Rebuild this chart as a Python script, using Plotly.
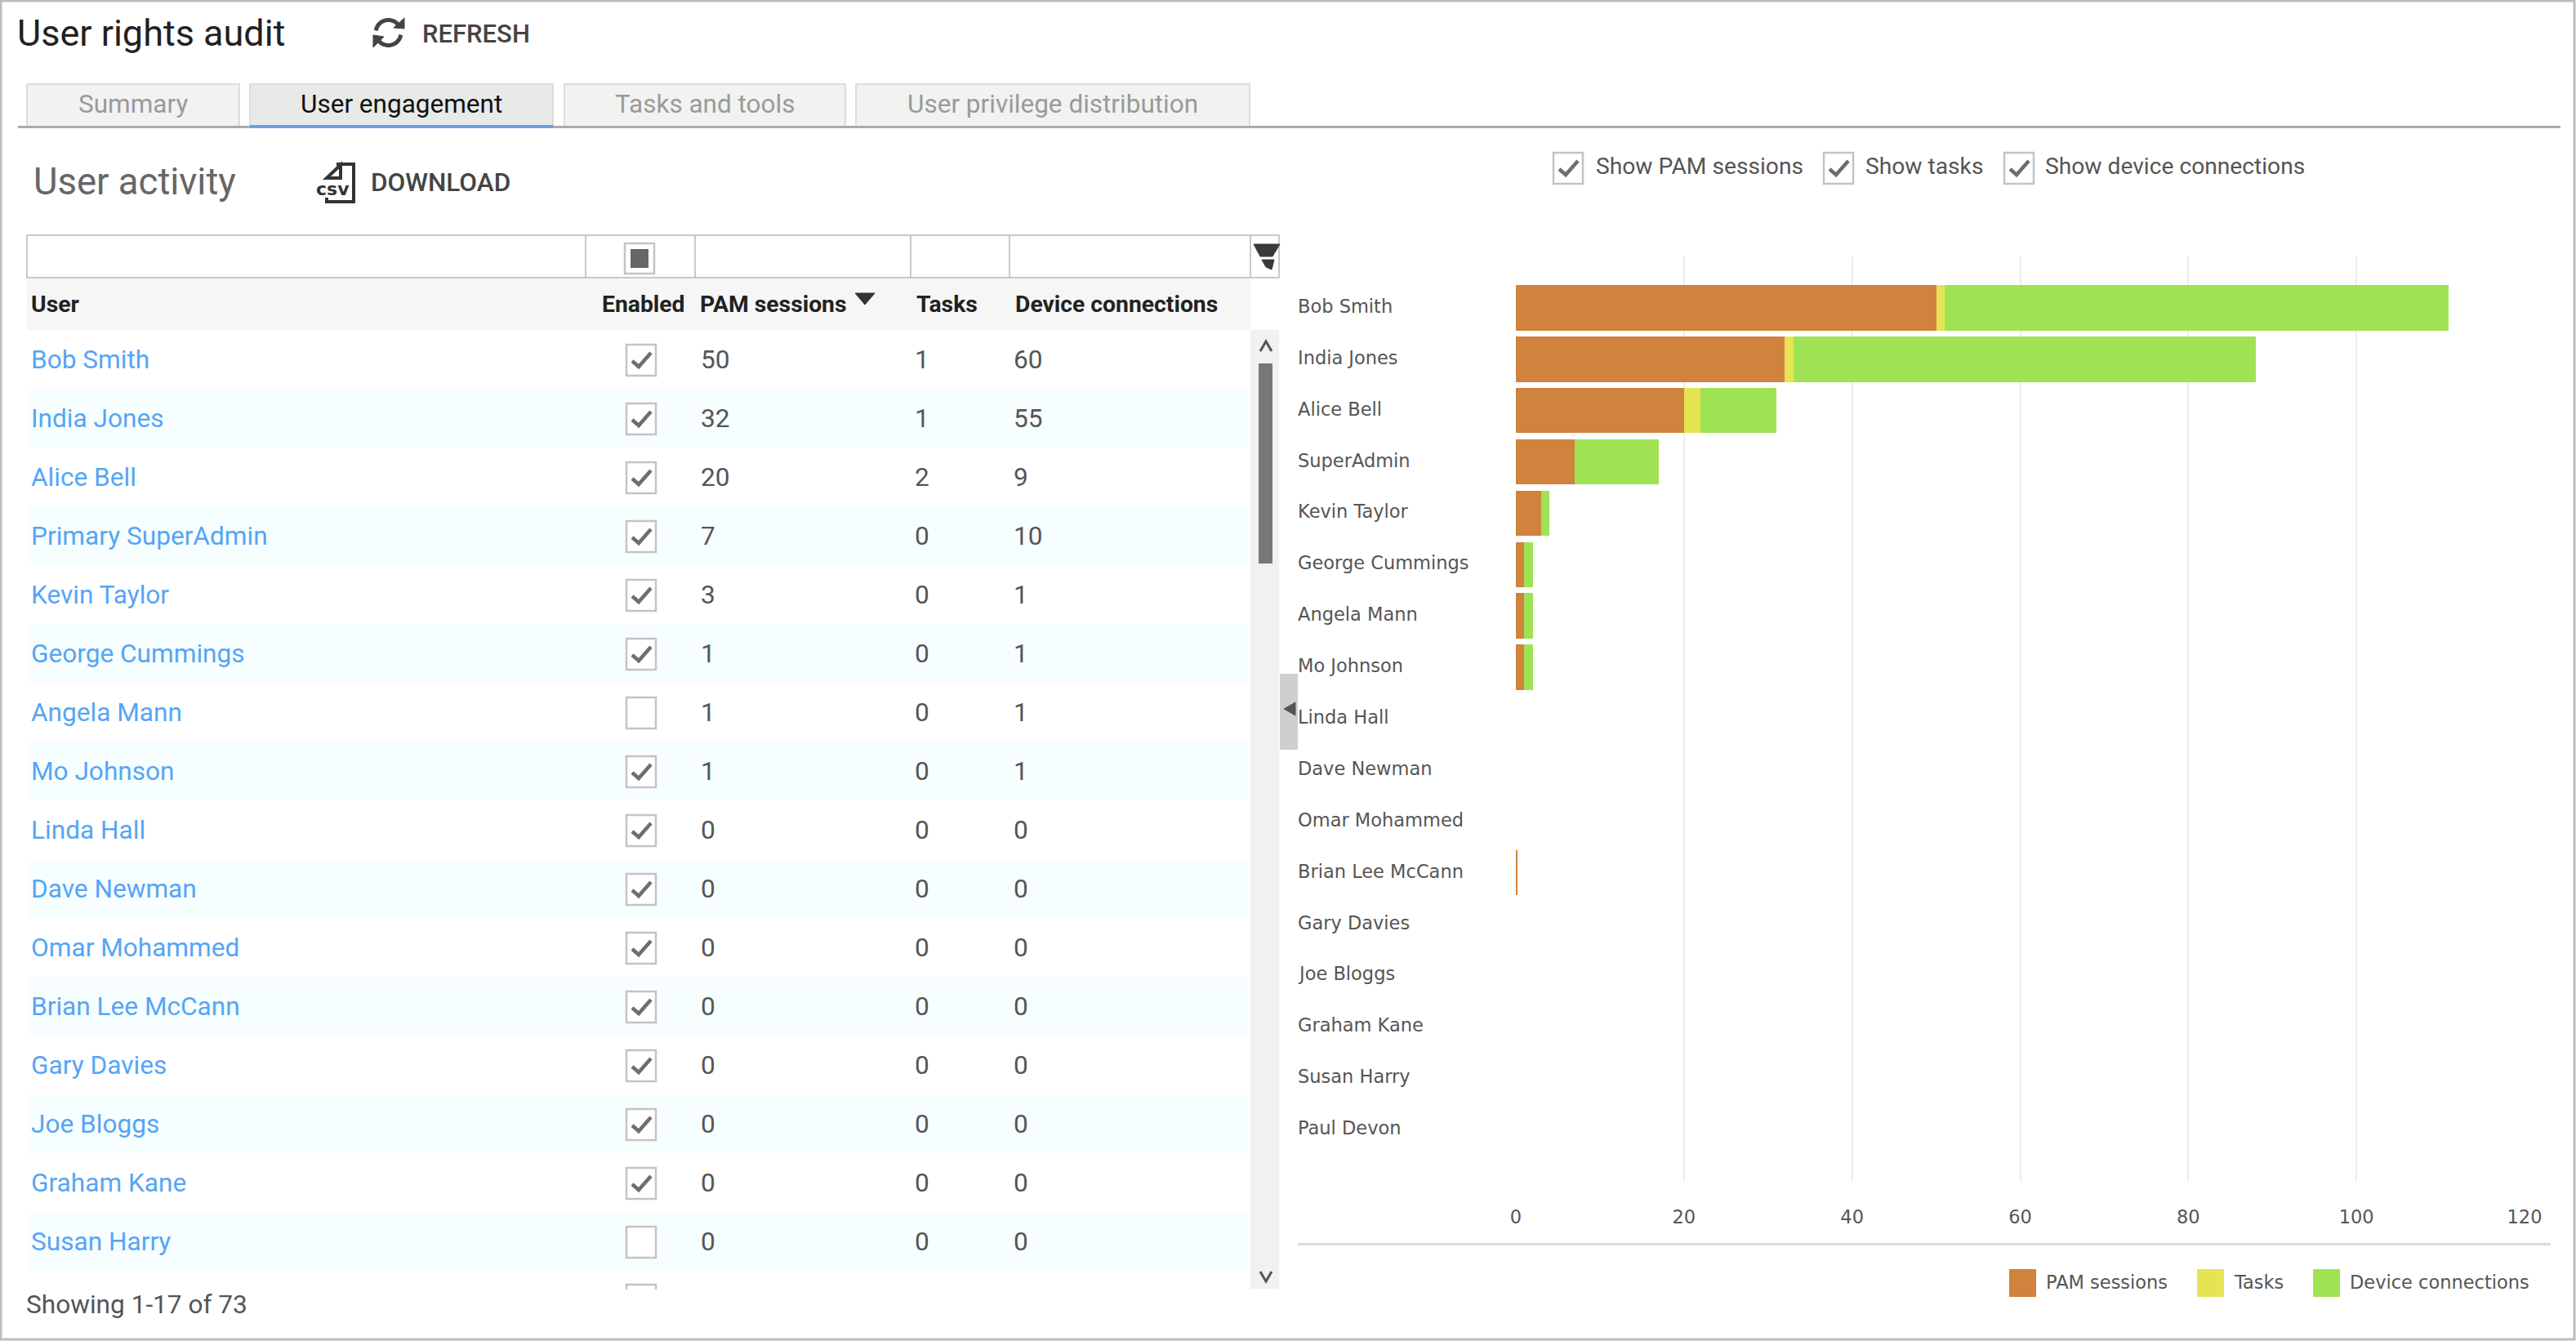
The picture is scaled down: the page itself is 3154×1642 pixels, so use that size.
import math
import plotly.graph_objects as go

W, H = 3154, 1642

# ---- data ----
chart_users = ["Bob Smith", "India Jones", "Alice Bell", "SuperAdmin", "Kevin Taylor", "George Cummings",
               "Angela Mann", "Mo Johnson", "Linda Hall", "Dave Newman", "Omar Mohammed", "Brian Lee McCann",
               "Gary Davies", "Joe Bloggs", "Graham Kane", "Susan Harry", "Paul Devon"]
chart_pam = [50, 32, 20, 7, 3, 1, 1, 1, 0, 0, 0, 0.2, 0, 0, 0, 0, 0]
chart_tasks = [1, 1, 2, 0, 0, 0, 0, 0, 0, 0, 0, 0, 0, 0, 0, 0, 0]
chart_devices = [60, 55, 9, 10, 1, 1, 1, 1, 0, 0, 0, 0, 0, 0, 0, 0, 0]
x_ticks = [0, 20, 40, 60, 80, 100, 120]

table_users = ["Bob Smith", "India Jones", "Alice Bell", "Primary SuperAdmin", "Kevin Taylor", "George Cummings",
               "Angela Mann", "Mo Johnson", "Linda Hall", "Dave Newman", "Omar Mohammed", "Brian Lee McCann",
               "Gary Davies", "Joe Bloggs", "Graham Kane", "Susan Harry"]
table_enabled = [1, 1, 1, 1, 1, 1, 0, 1, 1, 1, 1, 1, 1, 1, 1, 0]
table_pam = [50, 32, 20, 7, 3, 1, 1, 1, 0, 0, 0, 0, 0, 0, 0, 0]
table_tasks = [1, 1, 2, 0, 0, 0, 0, 0, 0, 0, 0, 0, 0, 0, 0, 0]
table_devices = [60, 55, 9, 10, 1, 1, 1, 1, 0, 0, 0, 0, 0, 0, 0, 0]

series_names = ["PAM sessions", "Tasks", "Device connections"]
series_colors = ["#CF833D", "#E6E452", "#9FE354"]
tabs = ["Summary", "User engagement", "Tasks and tools", "User privilege distribution"]

shapes, notes = [], []
REF = dict(xref="x2", yref="y2")

def rect(x0, y0, x1, y1, fill="rgba(0,0,0,0)", line=None, lw=0, layer="above"):
    shapes.append(dict(type="rect", x0=x0, x1=x1, y0=y0, y1=y1, fillcolor=fill,
                       line=dict(color=line or "rgba(0,0,0,0)", width=lw), layer=layer, **REF))

def poly(points, fill=None, line="#000", lw=0, close=False):
    d = "M" + " L".join(f"{a:.2f},{b:.2f}" for a, b in points) + (" Z" if close else "")
    s = dict(type="path", path=d, line=dict(color=line, width=lw), **REF)
    if fill:
        s["fillcolor"] = fill
    shapes.append(s)

def text(x, y, s, size, color="#444", family="Roboto", anchor="left", weight=400):
    notes.append(dict(x=x, y=y, text=s, showarrow=False, xanchor=anchor, yanchor="middle", borderpad=0,
                      borderwidth=0, font=dict(family=family, size=size, color=color, weight=weight), **REF))

def checkbox(x0, cy, checked):
    rect(x0, cy - 18, x0 + 36, cy + 20, fill="#fff", line="#c4c4c4", lw=2.5)
    if checked:
        poly([(x0 + 7, cy + 2), (x0 + 15, cy + 9), (x0 + 30, cy - 8)], line="#6e6e6e", lw=4.5)

# ---- page frame ----
rect(1, 1, W - 2, H - 2, line="#bdbdbd", lw=3)

# ---- header ----
text(21, 40, "User rights audit", 45, "#212121")
for a0, a1 in [(170, 35), (-10, -145)]:
    pts = [(475.5 + 15.5 * math.cos(math.radians(a0 - (a0 - a1) * i / 16)),
            40 - 15.5 * math.sin(math.radians(a0 - (a0 - a1) * i / 16))) for i in range(17)]
    poly(pts, line="#444", lw=5)
poly([(495, 22), (495, 35), (482, 34)], fill="#444", line="#444", lw=1, close=True)
poly([(457, 43), (457, 58), (470, 45)], fill="#444", line="#444", lw=1, close=True)
text(517, 41, "REFRESH", 31, "#444", weight=500)

# ---- tabs ----
tab_spans = [(33, 293), (306, 677), (691, 1035), (1048, 1530)]
for i, (name, (a, b)) in enumerate(zip(tabs, tab_spans)):
    rect(a, 103, b, 155, fill="#e8eae8" if i == 1 else "#f1f3f1", line="#dcdcdc", lw=2)
    text((a + b) / 2, 127, name, 31.5, "#111" if i == 1 else "#9a9a9a", anchor="center")
rect(22, 154, 3135, 157, fill="#ababab")
rect(306, 153, 677, 157, fill="#6d9eeb")

# ---- user activity title ----
text(41, 222, "User activity", 45.5, "#666")
poly([(412, 201), (433, 201), (433, 247), (400, 247), (400, 242)], line="#333", lw=4)
poly([(400, 218), (417, 202), (417, 218)], line="#333", lw=4, close=True)
text(387, 231, "csv", 22, "#333", family="DejaVu Sans", weight=700)
text(454, 223, "DOWNLOAD", 31.5, "#444", weight=500)

# ---- filter row ----
rect(33, 288, 1566, 340, fill="#fff", line="#c8c8c8", lw=2)
for sep in [717, 851, 1115, 1236, 1531]:
    rect(sep - 1, 288, sep + 1, 340, fill="#c8c8c8")
rect(765, 298, 801, 335, fill="#fff", line="#c4c4c4", lw=2.5)
rect(772, 305, 794, 328, fill="#666")
poly([(1535, 299), (1567, 299), (1558, 314), (1543, 314)], fill="#3a3a3a", line="#3a3a3a", lw=1, close=True)
poly([(1545, 318), (1560, 318), (1557, 330), (1550, 327)], fill="#3a3a3a", line="#3a3a3a", lw=1, close=True)

# ---- table header ----
rect(33, 340, 1531, 404, fill="#f6f6f6", layer="below")
for x, s in [(38, "User"), (737, "Enabled"), (857, "PAM sessions"), (1122, "Tasks"), (1243, "Device connections")]:
    text(x, 372, s, 28.3, "#222", weight=700)
poly([(1047, 359), (1071, 359), (1059, 373)], fill="#333", line="#333", lw=1, close=True)

# ---- table rows ----
for i, (u, e, p, t, d) in enumerate(zip(table_users, table_enabled, table_pam, table_tasks, table_devices)):
    cy = 440 + 72 * i
    if i % 2 == 1:
        rect(33, cy - 36, 1531, cy + 36, fill="#f7feff", layer="below")
    text(38, cy, u, 31.6, "#55a5f5")
    checkbox(767, cy, e)
    text(858, cy, str(p), 31.6, "#555")
    text(1120, cy, str(t), 31.6, "#555")
    text(1241, cy, str(d), 31.6, "#555")
# clipped top of the next row's box
poly([(767, 1579), (767, 1573), (803, 1573), (803, 1579)], line="#c4c4c4", lw=2.5)

# ---- scrollbar ----
rect(1531, 404, 1566, 1578, fill="#f1f1f1", layer="below")
poly([(1543, 430), (1550, 418), (1557, 430)], line="#555", lw=3)
poly([(1543, 1557), (1550, 1569), (1557, 1557)], line="#555", lw=3)
rect(1541, 445, 1558, 690, fill="#777")

# ---- splitter ----
rect(1567, 825, 1589, 918, fill="#cfcfcf")
poly([(1572, 868), (1586, 860), (1586, 876)], fill="#555", line="#555", lw=1, close=True)

# ---- footer ----
text(32, 1597, "Showing 1-17 of 73", 31.6, "#555")

# ---- chart toggles ----
for bx, tx, s in [(1902, 1954, "Show PAM sessions"), (2233, 2284, "Show tasks"), (2454, 2504, "Show device connections")]:
    checkbox(bx, 205, 1)
    text(tx, 203, s, 28.2, "#555")

# ---- chart labels (left aligned, tied to the category axis) ----
label_font = dict(family="DejaVu Sans", size=22.5, color="#555")
for u in chart_users:
    notes.append(dict(xref="x2", yref="y", x=1588, y=u, text=u, showarrow=False, xanchor="left",
                      yanchor="middle", yshift=2, borderpad=0, font=label_font))

# ---- divider + legend ----
rect(1589, 1522, 3123, 1525, fill="#d9d9d9")
for name, color, sx, tx in zip(series_names, series_colors, [2460, 2690, 2832], [2505, 2735, 2877]):
    rect(sx, 1554, sx + 33, 1588, fill=color)
    text(tx, 1570, name, 22.5, "#555", family="DejaVu Sans")

# ---- traces ----
fig = go.Figure()
for name, values, color in zip(series_names, [chart_pam, chart_tasks, chart_devices], series_colors):
    fig.add_trace(go.Bar(y=chart_users, x=values, name=name, orientation="h", marker=dict(color=color, line_width=0)))
# invisible holder for the page-sized overlay axes used by the surrounding UI
fig.add_trace(go.Scatter(x=[0], y=[0], xaxis="x2", yaxis="y2", mode="markers", marker=dict(opacity=0),
                         showlegend=False, hoverinfo="skip"))

fig.update_layout(
    width=W, height=H, autosize=False, barmode="stack", bargap=0.115, showlegend=False,
    paper_bgcolor="#fff", plot_bgcolor="rgba(0,0,0,0)",
    margin=dict(l=0, r=0, t=0, b=0, pad=0),
    shapes=shapes, annotations=notes,
    xaxis=dict(domain=[1856 / W, 3091 / W], range=[0, 120], tickvals=x_ticks, showgrid=True, gridcolor="#ebebeb",
               gridwidth=2, zeroline=False, showline=False, ticks="", ticklabelstandoff=28, automargin=False,
               tickfont=dict(family="DejaVu Sans", size=22.5, color="#555"), anchor="y"),
    yaxis=dict(domain=[1 - 1446 / H, 1 - 314 / H], range=[17, -1], categoryorder="array", categoryarray=chart_users,
               type="category", showticklabels=False, showgrid=False, zeroline=False, showline=False, ticks="",
               automargin=False, anchor="x"),
    xaxis2=dict(domain=[0, 1], range=[0, W], visible=False, fixedrange=True, anchor="y2", automargin=False),
    yaxis2=dict(domain=[0, 1], range=[H, 0], visible=False, fixedrange=True, anchor="x2", automargin=False),
)

fig.write_html("out.html", config=dict(displayModeBar=False),
               post_script="document.body.style.margin='0';document.body.style.overflow='hidden';")
